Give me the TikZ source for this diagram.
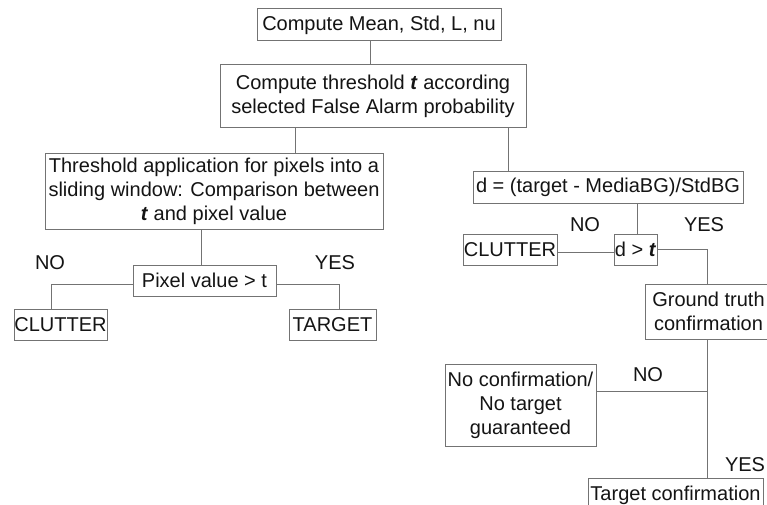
\documentclass[tikz,border=0pt]{standalone}
\usepackage{fontspec}
\setmainfont{Liberation Sans}
\definecolor{linec}{RGB}{115,115,115}
\definecolor{txtc}{RGB}{20,20,20}
\newcommand{\fsz}{\fontsize{20}{24}\selectfont}
\newcommand{\bt}{\textbf{\textit{t}}}
\begin{document}
\begin{tikzpicture}[x=1pt,y=-1pt,
  box/.style={draw=linec, line width=1pt, inner sep=0pt, align=center, font=\fsz, text=txtc},
  lbl/.style={font=\fsz, text=txtc, inner sep=0pt},
  conn/.style={draw=linec, line width=1pt}]
\useasboundingbox (0,0) rectangle (767,505);
\clip (0,0) rectangle (767,505);
\fill[white] (0,0) rectangle (767,505);
% boxes
\node[box, minimum width=244pt, minimum height=32pt] (A) at (379,25) {Compute Mean, Std, L, nu};
\node[box, minimum width=306pt, minimum height=63pt] (B) at (373,96.5) {Compute threshold \bt{} according\\selected False Alarm probability};
\node[box, minimum width=338pt, minimum height=75pt] (C) at (214,191.5) {Threshold application for pixels into a\\sliding window: Comparison between\\\bt{} and pixel value};
\node[box, minimum width=143pt, minimum height=31pt] (D) at (204.5,280.5) {Pixel value > t};
\node[box, minimum width=93pt, minimum height=31pt] (E) at (60.5,324.5) {CLUTTER};
\node[box, minimum width=87pt, minimum height=31pt] (F) at (332.5,324.5) {TARGET};
\node[box, minimum width=270pt, minimum height=32pt] (G) at (608,187) {d = (target - MediaBG)/StdBG};
\node[box, minimum width=43pt, minimum height=31pt] (H) at (635.5,249.5) {d > \bt};
\node[box, minimum width=94pt, minimum height=31pt] (I) at (510,249.5) {CLUTTER};
\node[box, minimum width=127pt, minimum height=55pt] (J) at (708.5,311.5) {Ground truth\\confirmation};
\node[box, minimum width=151pt, minimum height=82pt] (K) at (520.5,405) {No confirmation/\\No target\\guaranteed};
\node[box, minimum width=175pt, minimum height=34pt] (L) at (675.5,495) {Target confirmation};
% labels
\node[lbl] (n1) at (50,263) {NO};
\node[lbl] (y1) at (335,263) {YES};
\node[lbl] (n2) at (585,225) {NO};
\node[lbl] (y2) at (704,225) {YES};
\node[lbl] (n3) at (648,375) {NO};
\node[lbl] (y3) at (745,465) {YES};
% connectors
\coordinate (a1) at ([xshift=-9pt]A.south);
\draw[conn] (a1) -- (a1 |- B.north);
\coordinate (b1) at ([xshift=-78pt]B.south);
\draw[conn] (b1) -- (b1 |- C.north);
\coordinate (b2) at ([xshift=135pt]B.south);
\draw[conn] (b2) -- (b2 |- G.north);
\coordinate (c1) at ([xshift=-13pt]C.south);
\draw[conn] (c1) -- (c1 |- D.north);
\coordinate (d1) at ([yshift=-3.5pt]D.west);
\coordinate (e1) at ([xshift=-9.5pt]E.north);
\draw[conn] (d1) -| (e1);
\coordinate (d2) at ([yshift=-3.5pt]D.east);
\coordinate (f1) at ([xshift=6.5pt]F.north);
\draw[conn] (d2) -| (f1);
\coordinate (h0) at ([xshift=1.5pt]H.north);
\draw[conn] (h0 |- G.south) -- (h0);
\draw[conn] ([yshift=-2.5pt]H.west) -- ([yshift=-2.5pt]I.east);
\coordinate (h1) at ([yshift=0.5pt]H.east);
\coordinate (j0) at ([xshift=-1.5pt]J.north);
\draw[conn] (h1) -| (j0);
\coordinate (j1) at ([xshift=-1.5pt]J.south);
\draw[conn] (j1) -- (j1 |- L.north);
\coordinate (k1) at ([yshift=14pt]K.east);
\draw[conn] (k1) -- (k1 -| j1);
\end{tikzpicture}
\end{document}
